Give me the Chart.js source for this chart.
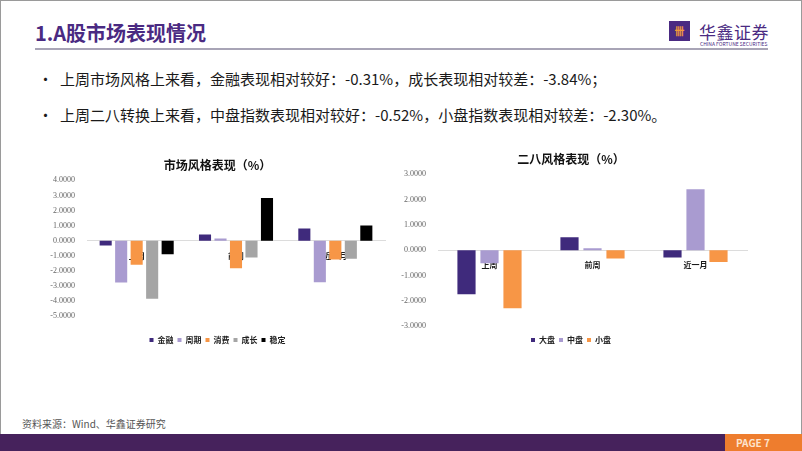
<!DOCTYPE html>
<html>
<head>
<meta charset="utf-8">
<script src="https://cdn.jsdelivr.net/npm/chart.js@4"></script>
<style>
  body { margin:0; width:802px; height:451px; overflow:hidden; background:#fff; font-family:"Noto Sans CJK SC", sans-serif; }
  .slide { position:absolute; left:0; top:0; width:800px; height:449px; border:1px solid #9a9a9a; }
  .title { position:absolute; left:35px; top:18px; font-size:20px; font-weight:bold; color:#4a2a82; }
  .rule { position:absolute; left:35px; top:48px; width:733px; height:2px; background:#a8a4b6; }
  .logo-box { position:absolute; left:669px; top:21px; width:21px; height:20px; background:#4a2a82; color:#f39a3a; font-size:10px; text-align:center; line-height:20px; font-weight:bold; }
  .logo-txt { position:absolute; left:699px; top:19px; font-size:17px; color:#4a2a82; letter-spacing:0.5px; }
  .logo-en { position:absolute; left:700px; top:40px; font-size:5px; color:#4a2a82; }
  .bullet { position:absolute; left:38px; font-size:15px; color:#1a1a1a; }
  .bullet span { display:inline-block; width:22px; }
  .src { position:absolute; left:22px; top:416px; font-size:10px; color:#555; }
  .bar { position:absolute; left:0; top:434px; width:802px; height:17px; background:#46225c; }
  .page { position:absolute; left:725px; top:434px; width:77px; height:17px; background:#ee7d2e; color:#fde3cc; font-size:10px; font-weight:bold; line-height:17px; padding-left:11px; box-sizing:border-box; }
  .box { position:absolute; }
</style>
</head>
<body>
<div class="slide"></div>
<div class="title">1.A股市场表现情况</div>
<div class="rule"></div>
<div class="logo-box">卌</div>
<div class="logo-txt">华鑫证券</div>
<div class="logo-en">CHINA FORTUNE SECURITIES</div>
<div class="bullet" style="top:68px"><span>•</span>上周市场风格上来看，金融表现相对较好：-0.31%，成长表现相对较差：-3.84%；</div>
<div class="bullet" style="top:104px"><span>•</span>上周二八转换上来看，中盘指数表现相对较好：-0.52%，小盘指数表现相对较差：-2.30%。</div>
<div class="box" style="left:50px;top:140px;width:350px;height:214px"><canvas id="styleChart"></canvas></div>
<div class="box" style="left:395px;top:140px;width:380px;height:214px"><canvas id="sizeChart"></canvas></div>
<div class="src">资料来源：Wind、华鑫证券研究</div>
<div class="bar"></div>
<div class="page">PAGE 7</div>

<script>
// data
var periods = ["上周", "前周", "近一月"];

var styleNames = ["金融", "周期", "消费", "成长", "稳定"];
var finance  = [-0.31, 0.42, 0.82];
var cyclical = [-2.75, 0.15, -2.74];
var consumer = [-1.58, -1.82, -1.23];
var growth   = [-3.84, -1.11, -1.18];
var stable   = [-0.88, 2.83, 1.02];

var sizeNames = ["大盘", "中盘", "小盘"];
var large = [-1.74, 0.51, -0.29];
var mid   = [-0.52, 0.08, 2.41];
var small = [-2.30, -0.33, -0.47];

var purple = "#3f2a7c", lavender = "#a99bd0", orange = "#f79646", grey = "#a5a5a5";

Chart.defaults.font.family = "Noto Sans CJK SC";
Chart.defaults.animation = false;

function makeOpts(title, ymin, ymax, yWidth, pad, titleTop, spacer) {
  return {
    responsive: true,
    maintainAspectRatio: false,
    layout: { padding: pad },
    plugins: {
      title: { display: true, text: title, color: "#111", font: { size: 12, weight: "bold" }, padding: { top: titleTop, bottom: 8 } },
      legend: {
        position: "bottom",
        title: { display: true, text: "", font: { size: spacer }, padding: 0 },
        labels: { usePointStyle: true, pointStyle: "rect", boxWidth: 4, boxHeight: 4, padding: 4, color: "#222", font: { size: 8, weight: "bold" } }
      },
      tooltip: { enabled: false }
    },
    scales: {
      x: {
        position: { y: 0 },
        z: 1,
        grid: { display: false },
        border: { display: true, color: "#dcdcdc" },
        ticks: { color: "#1a1a1a", font: { size: 8, weight: "bold" }, padding: 2 }
      },
      y: {
        min: ymin, max: ymax,
        afterFit: function (s) { s.width = yWidth; },
        grid: { display: false },
        border: { display: false },
        ticks: { stepSize: 1, color: "#666", padding: 4, font: { family: "Liberation Serif", size: 8 }, callback: function (v) { return v.toFixed(4); } }
      }
    }
  };
}

function ds(label, data, color, cp, bp) {
  return { label: label, data: data, backgroundColor: color, categoryPercentage: cp, barPercentage: bp };
}

new Chart(document.getElementById("styleChart"), {
  type: "bar",
  data: {
    labels: periods,
    datasets: [
      ds(styleNames[0], finance, purple, 0.78, 0.78),
      ds(styleNames[1], cyclical, lavender, 0.78, 0.78),
      ds(styleNames[2], consumer, orange, 0.78, 0.78),
      ds(styleNames[3], growth, grey, 0.78, 0.78),
      ds(styleNames[4], stable, "#000000", 0.78, 0.78)
    ]
  },
  options: makeOpts("市场风格表现（%）", -5, 4, 37, { left: 0, right: 15, top: 0, bottom: 0 }, 18, 13)
});

new Chart(document.getElementById("sizeChart"), {
  type: "bar",
  data: {
    labels: periods,
    datasets: [
      ds(sizeNames[0], large, purple, 0.67, 0.79),
      ds(sizeNames[1], mid, lavender, 0.67, 0.79),
      ds(sizeNames[2], small, orange, 0.67, 0.79)
    ]
  },
  options: makeOpts("二八风格表现（%）", -3, 3, 43, { left: 0, right: 28, top: 0, bottom: 0 }, 12, 5)
});
</script>
</body>
</html>
